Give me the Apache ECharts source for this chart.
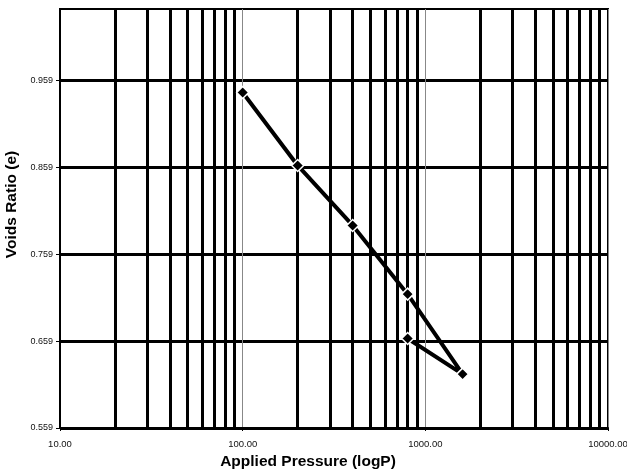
<!DOCTYPE html>
<html>
<head>
<meta charset="utf-8">
<script src="https://cdn.jsdelivr.net/npm/echarts@6/dist/echarts.min.js"></script>
<style>
html,body{margin:0;padding:0;background:#fff;}
#chart{width:627px;height:472px;}
</style>
</head>
<body>
<div id="chart"></div>
<script>
// Data
const pressure = [100, 200, 400, 800, 1600, 800];
const voidsRatio = [0.945, 0.861, 0.792, 0.713, 0.621, 0.662];
// Axis ticks
const yTicks = [0.559, 0.659, 0.759, 0.859, 0.959];
const xMinorGrid = [20, 30, 40, 50, 60, 70, 80, 90, 200, 300, 400, 500, 600, 700, 800, 900, 2000, 3000, 4000, 5000, 6000, 7000, 8000, 9000];

const chart = echarts.init(document.getElementById('chart'));
const points = pressure.map((p, i) => [p, voidsRatio[i]]);

chart.setOption({
  animation: false,
  backgroundColor: '#fff',
  grid: {left: 60, right: 19, top: 9, bottom: 44, show: true, borderColor: '#000', borderWidth: 2, backgroundColor: 'transparent',
    containLabel: false, outerBoundsMode: 'none'},
  xAxis: {
    type: 'log', logBase: 10, min: 10, max: 10000,
    name: 'Applied Pressure (logP)', nameLocation: 'middle', nameGap: 26,
    nameTextStyle: {fontFamily: 'Liberation Sans', fontWeight: 'bold', fontSize: 15.5, color: '#000', padding: [0, 52, 0, 0]},
    axisLine: {lineStyle: {color: '#000', width: 2}},
    axisTick: {show: true, length: 3, lineStyle: {color: '#000'}},
    axisLabel: {fontFamily: 'Liberation Sans', fontSize: 9.5, color: '#111', margin: 11,
      formatter: v => Number(v).toFixed(2)},
    splitLine: {show: true, lineStyle: {color: '#888', width: 1}}
  },
  yAxis: {
    type: 'value', min: 0.559, max: 1.041,
    name: 'Voids Ratio (e)', nameLocation: 'middle', nameGap: 38,
    nameTextStyle: {fontFamily: 'Liberation Sans', fontWeight: 'bold', fontSize: 15.5, color: '#000', padding: [0, 0, 0, 28]},
    axisLine: {show: true, lineStyle: {color: '#000', width: 2}},
    axisTick: {show: true, length: 4, customValues: yTicks, lineStyle: {color: '#000'}},
    axisLabel: {fontFamily: 'Liberation Sans', fontSize: 9, color: '#111', margin: 7,
      customValues: yTicks, formatter: v => Number(v).toFixed(3)},
    splitLine: {show: true, lineStyle: {color: '#000', width: 3}}
  },
  series: [
    {
      type: 'line', data: [], z: 1, silent: true,
      markLine: {
        silent: true, symbol: 'none', animation: false,
        label: {show: false},
        lineStyle: {color: '#000', width: 3, type: 'solid'},
        data: xMinorGrid.map(v => ({xAxis: v}))
      }
    },
    {
      type: 'line', data: points, z: 5,
      lineStyle: {color: '#000', width: 4},
      symbol: 'diamond', symbolSize: 12,
      itemStyle: {color: '#000', borderColor: '#fff', borderWidth: 1.5}
    }
  ]
});
</script>
</body>
</html>
